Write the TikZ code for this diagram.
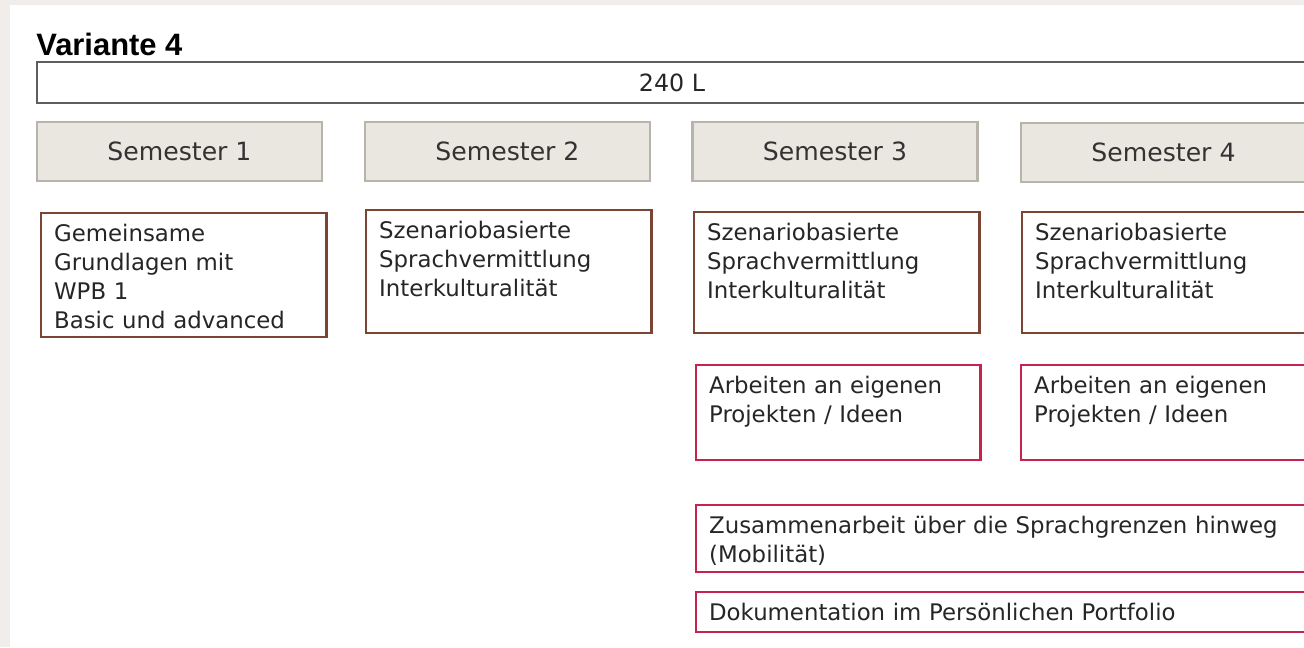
\documentclass[tikz,border=0pt]{standalone}
\usepackage{fontspec}
\setmainfont{DejaVu Sans}
\newfontfamily\titelfont{Liberation Sans}
\definecolor{rand}{HTML}{F0EDEA}
\definecolor{semgrund}{HTML}{EAE6E0}
\definecolor{semrand}{HTML}{B8B3AB}
\definecolor{braun}{HTML}{7A4532}
\definecolor{rot}{HTML}{C8234E}
\definecolor{gesamtrand}{HTML}{5E5E5E}
\begin{document}
\begin{tikzpicture}[x=0.02cm,y=-0.02cm,
	gesamt_node/.style={draw=gesamtrand,line width=1.1pt,minimum width=25.4cm,minimum height=0.82cm,inner sep=0pt,font=\fontsize{13.5}{16}\selectfont,text=black!85},
	sem_node/.style={draw=semrand,fill=semgrund,line width=1.2pt,minimum width=5.7cm,minimum height=1.18cm,inner sep=0pt,font=\fontsize{14.3}{16}\selectfont,text=black!80},
	inhalt_node/.style={draw=braun,line width=1.3pt,anchor=north west,text width=5.19cm,align=left,inner xsep=0.26cm,inner ysep=0.2cm,text height=0.36cm,font=\fontsize{13}{16.5}\selectfont,text=black!85},
	projekt_node/.style={inhalt_node,draw=rot}]
	
	\useasboundingbox (0,0) rectangle (1304,647);
	\clip (0,0) rectangle (1304,647);
	\fill[rand] (0,0) rectangle (1304,647);
	\fill[white] (10,5) rectangle (1304,647);
	
	\node[anchor=base west,inner sep=0pt,font=\titelfont\bfseries\fontsize{17.6}{20}\selectfont] (titel) at (36,55) {Variante 4};
	\node[gesamt_node] (gesamt) at (672,82.5) {240 L};
	
	\node[sem_node] (s1) at (179.5,151.5) {Semester 1};
	\node[sem_node] (s2) at (507.5,151.5) {Semester 2};
	\node[sem_node] (s3) at (835,151.5) {Semester 3};
	\node[sem_node] (s4) at (1163.5,152.5) {Semester 4};
	
	\node[inhalt_node,text depth=1.72cm] (i1) at (40,212) {Gemeinsame\\Grundlagen mit\\WPB 1\\Basic und advanced};
	\node[inhalt_node,text depth=1.70cm] (i2) at (365,209) {Szenariobasierte\\Sprachvermittlung\\Interkulturalität};
	\node[inhalt_node,text depth=1.66cm] (i3) at (693,211) {Szenariobasierte\\Sprachvermittlung\\Interkulturalität};
	\node[inhalt_node,text depth=1.66cm] (i4) at (1021,211) {Szenariobasierte\\Sprachvermittlung\\Interkulturalität};
	
	\node[projekt_node,text width=5.17cm,text depth=1.14cm] (p3) at (695,364) {Arbeiten an eigenen\\Projekten / Ideen};
	\node[projekt_node,text width=5.17cm,text depth=1.14cm] (p4) at (1020,364) {Arbeiten an eigenen\\Projekten / Ideen};
	
	\node[projekt_node,text width=12.2cm,text depth=0.58cm] (mobil) at (695,504) {Zusammenarbeit über die Sprachgrenzen hinweg\\(Mobilität)};
	\node[projekt_node,text width=12.2cm,text depth=0.04cm] (doku) at (695,591) {Dokumentation im Persönlichen Portfolio};
\end{tikzpicture}
\end{document}
